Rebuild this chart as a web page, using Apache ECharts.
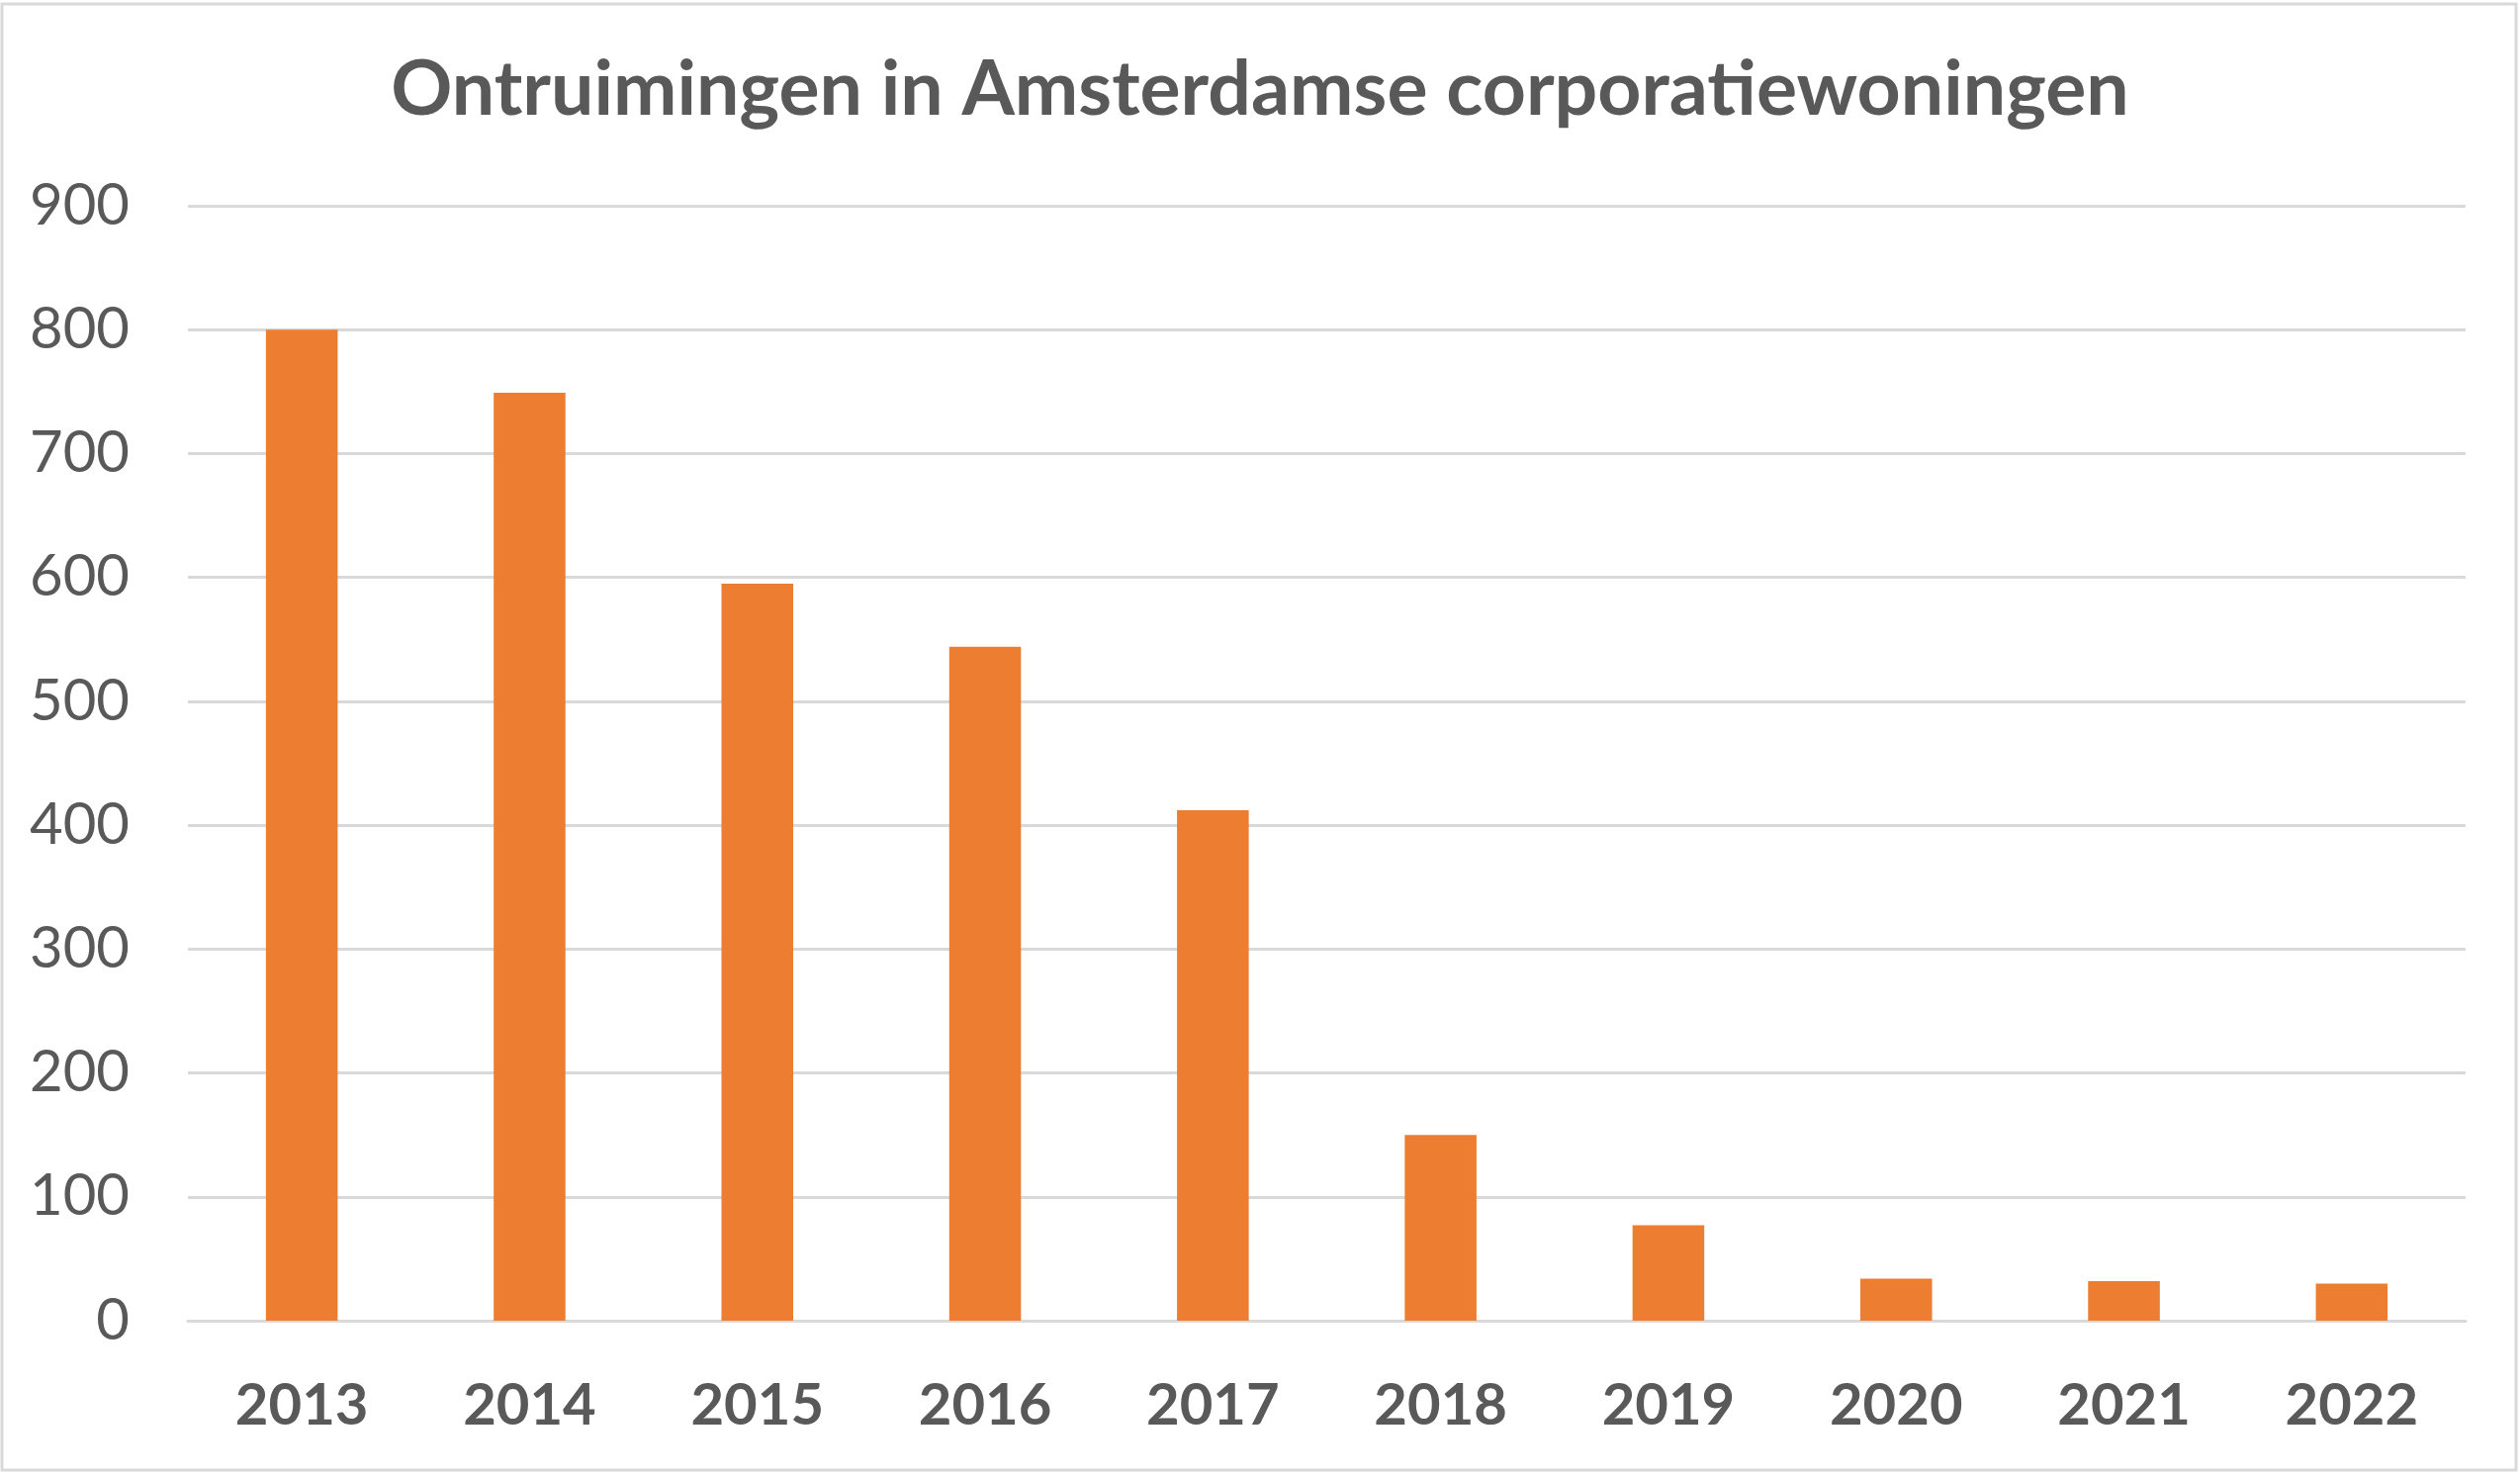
<!DOCTYPE html>
<html>
<head>
<meta charset="utf-8">
<script src="https://cdn.jsdelivr.net/npm/echarts@6/dist/echarts.min.js"></script>
<style>
html,body{margin:0;padding:0;background:#fff;}
#chart{width:2548px;height:1494px;}
</style>
</head>
<body>
<div id="chart"></div>
<script>
const titleText = 'Ontruimingen in Amsterdamse corporatiewoningen';
const years = ['2013','2014','2015','2016','2017','2018','2019','2020','2021','2022'];
const evictions = [800, 749, 595, 544, 412, 150, 77, 34, 32, 30];
const yMin = 0, yMax = 900, yStep = 100;

const chart = echarts.init(document.getElementById('chart'), null, {renderer:'canvas'});
chart.setOption({
  backgroundColor: '#ffffff',
  animation: false,
  title: {
    text: titleText,
    left: 'center',
    top: 48,
    textStyle: {fontFamily: 'Lato', fontWeight: 'bold', fontSize: 77, color: '#595959'}
  },
  graphic: [{
    type: 'rect', silent: true,
    shape: {x: 2, y: 4, width: 2542, height: 1482},
    style: {fill: 'none', stroke: '#d9d9d9', lineWidth: 3}
  }],
  grid: {left: 190, right: 55, top: 208, bottom: 159, containLabel: false, outerBoundsMode: 'none'},
  xAxis: {
    type: 'category',
    data: years,
    axisLine: {show: true, lineStyle: {color: '#d9d9d9', width: 3}},
    axisTick: {show: false},
    axisLabel: {margin: 57, fontFamily: 'Lato', fontWeight: 'bold', fontSize: 58, color: '#595959'}
  },
  yAxis: {
    type: 'value',
    min: yMin, max: yMax, interval: yStep,
    axisLine: {show: false},
    axisTick: {show: false},
    splitLine: {lineStyle: {color: '#d9d9d9', width: 3}},
    axisLabel: {margin: 59, fontFamily: 'Lato', fontSize: 58, color: '#595959'}
  },
  series: [{
    type: 'bar',
    data: evictions,
    barCategoryGap: '68.5%',
    itemStyle: {color: '#ED7D31'}
  }]
});
</script>
</body>
</html>
